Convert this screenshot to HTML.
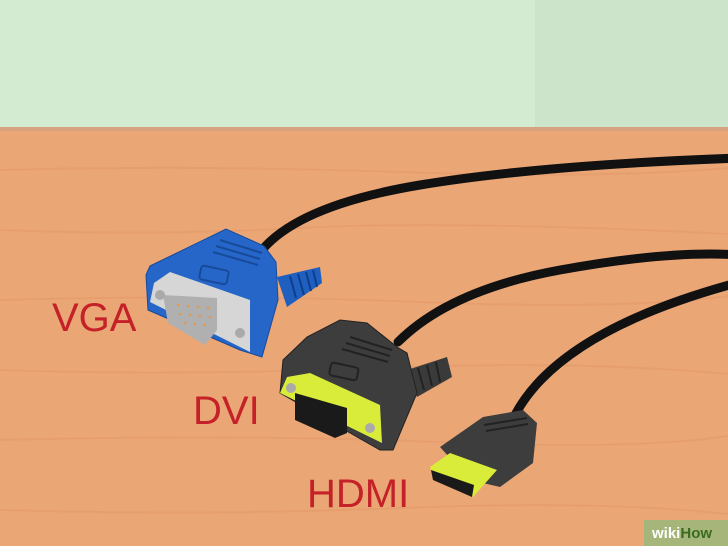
<!DOCTYPE html>
<html><head><style>
html,body{margin:0;padding:0;width:728px;height:546px;overflow:hidden}
svg{display:block}
text{font-family:"Liberation Sans",sans-serif}
</style></head><body>
<svg width="728" height="546" viewBox="0 0 728 546" xmlns="http://www.w3.org/2000/svg">
<rect width="728" height="546" fill="#eba676"/>
<rect width="728" height="130" fill="#d3ebd1"/>
<rect x="535" width="193" height="130" fill="#cce4ca"/>
<rect y="127" width="728" height="4" fill="#d7a27f"/>
<g stroke="#e3996a" stroke-width="2" fill="none" opacity="0.6">
<path d="M0 170 Q200 165 400 172 T728 168"/>
<path d="M0 230 Q150 236 300 228 T728 234"/>
<path d="M0 300 Q220 294 420 302 T728 296"/>
<path d="M0 370 Q180 376 380 368 T728 374"/>
<path d="M0 440 Q240 434 440 442 T728 436"/>
<path d="M0 510 Q200 516 400 508 T728 514"/>
</g>
<!-- cables -->
<g stroke="#111" stroke-width="9" fill="none" stroke-linecap="round">
<path d="M262 250 Q300 205 420 185 T740 158"/>
<path d="M398 342 Q450 290 560 270 T740 255"/>
<path d="M515 415 Q560 330 740 282"/>
</g>
<!-- VGA -->
<polygon points="277,277 320,267 322,283 287,307" fill="#1f5fc0"/>
<g stroke="#0e3d8a" stroke-width="2"><line x1="290" y1="276" x2="296" y2="298"/><line x1="298" y1="274" x2="304" y2="295"/><line x1="306" y1="272" x2="311" y2="291"/><line x1="313" y1="270" x2="317" y2="287"/></g>
<polygon points="150,266 226,229 264,246 276,262 278,300 262,357 240,350 148,310 146,275" fill="#2566c8" stroke="#184a9a" stroke-width="1"/>
<rect x="200" y="268" width="28" height="14" rx="3" fill="none" stroke="#184a9a" stroke-width="2" transform="rotate(12 214 275)"/>
<g stroke="#184a9a" stroke-width="2"><line x1="213" y1="252" x2="258" y2="265"/><line x1="216" y1="246" x2="260" y2="259"/><line x1="220" y1="240" x2="262" y2="253"/></g>
<polygon points="154,283 170,272 250,300 250,352 150,302" fill="#d6d6d6"/>
<polygon points="163,295 217,298 217,330 205,345 168,323" fill="#b0b0b0"/>
<circle cx="160" cy="295" r="5" fill="#aaa"/><circle cx="240" cy="333" r="5" fill="#aaa"/>
<g fill="#e09a50"><circle cx="178" cy="305" r="1.3"/><circle cx="188" cy="306" r="1.3"/><circle cx="198" cy="307" r="1.3"/><circle cx="208" cy="308" r="1.3"/><circle cx="180" cy="314" r="1.3"/><circle cx="190" cy="315" r="1.3"/><circle cx="200" cy="316" r="1.3"/><circle cx="210" cy="317" r="1.3"/><circle cx="185" cy="323" r="1.3"/><circle cx="195" cy="324" r="1.3"/><circle cx="205" cy="325" r="1.3"/></g>
<!-- DVI -->
<polygon points="407,370 447,357 452,377 417,397" fill="#3a3a3a"/>
<g stroke="#222" stroke-width="2"><line x1="418" y1="368" x2="424" y2="390"/><line x1="427" y1="365" x2="432" y2="386"/><line x1="436" y1="362" x2="440" y2="382"/></g>
<polygon points="283,360 307,337 340,320 367,323 397,347 407,353 417,393 393,450 380,450 280,393" fill="#3d3d3d" stroke="#222" stroke-width="1"/>
<rect x="330" y="365" width="28" height="13" rx="3" fill="none" stroke="#222" stroke-width="2" transform="rotate(12 344 371)"/>
<g stroke="#222" stroke-width="2"><line x1="342" y1="349" x2="388" y2="362"/><line x1="346" y1="343" x2="390" y2="356"/><line x1="350" y1="337" x2="392" y2="350"/></g>
<polygon points="287,377 310,373 380,405 382,443 280,393" fill="#d9ec3a"/>
<polygon points="295,393 347,408 347,433 335,438 295,420" fill="#1a1a1a"/>
<circle cx="291" cy="388" r="5" fill="#aaa"/><circle cx="370" cy="428" r="5" fill="#aaa"/>
<!-- HDMI -->
<polygon points="440,447 483,417 523,410 537,423 533,463 500,487 470,480" fill="#3d3d3d"/>
<g stroke="#222" stroke-width="2"><line x1="484" y1="425" x2="527" y2="418"/><line x1="486" y1="431" x2="528" y2="424"/></g>
<polygon points="430,467 450,453 497,470 473,497 433,477" fill="#d9ec3a"/>
<polygon points="431,470 474,485 472,497 433,480" fill="#1a1a1a"/>
<!-- labels -->
<g fill="#c42128" font-size="40">
<text x="52" y="331">VGA</text>
<text x="193" y="424">DVI</text>
<text x="307" y="507">HDMI</text>
</g>
<rect x="644" y="520" width="84" height="26" fill="#9ab87c" opacity="0.85"/>
<text x="652" y="538" font-size="15" fill="#fff" font-weight="bold">wiki<tspan fill="#3a6b1f">How</tspan></text>
</svg>
</body></html>
